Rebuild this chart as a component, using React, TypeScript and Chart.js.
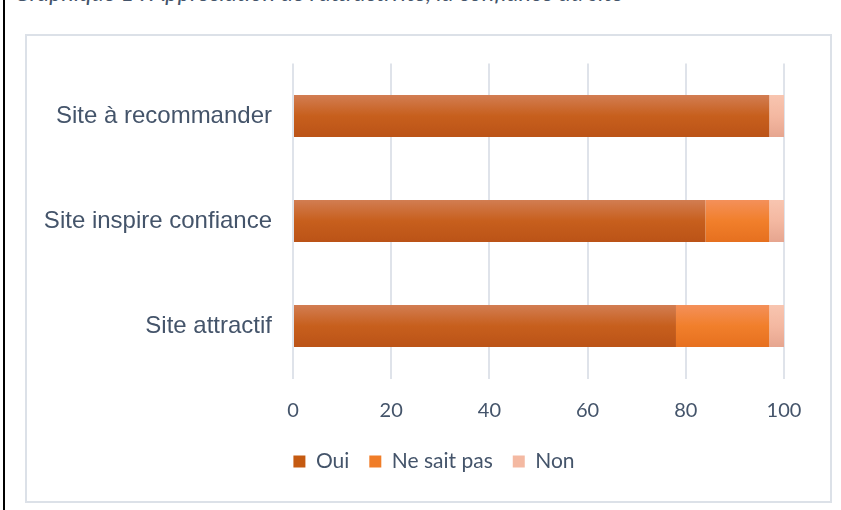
import React, { useEffect, useRef } from 'react';
import { Chart, registerables } from 'chart.js';
Chart.register(...registerables);

const categories = ['Site à recommander', 'Site inspire confiance', 'Site attractif'];
const seriesNames = ['Oui', 'Ne sait pas', 'Non'];
const oui = [97, 84, 78];
const neSaitPas = [0, 13, 19];
const non = [3, 3, 3];
const xTicks = [0, 20, 40, 60, 80, 100];
const titleText = "Graphique 1 : Appréciation de l'attractivité, la confiance du site";

const palettes = [
  { top: '#d27d52', mid: '#c75f1d', bottom: '#bb5317', solid: '#c55a11' },
  { top: '#f4905a', mid: '#f17f2b', bottom: '#e6701f', solid: '#f07d28' },
  { top: '#f8c5b0', mid: '#f4b8a1', bottom: '#e6a58f', solid: '#f4b9a2' },
];

const TEXT = '#44546A';

function gradientFor(ctx: any, p: any) {
  const chart = ctx.chart;
  const y = chart.scales && chart.scales.y;
  if (ctx.type !== 'data' || !y || !chart.chartArea) return p.solid;
  const c = y.getPixelForValue(ctx.dataIndex);
  const step = Math.abs(y.getPixelForValue(1) - y.getPixelForValue(0));
  const half = (step * 0.4) / 2;
  if (!isFinite(c) || !isFinite(half) || half <= 0) return p.solid;
  const g = chart.ctx.createLinearGradient(0, c - half, 0, c + half);
  g.addColorStop(0, p.top);
  g.addColorStop(0.5, p.mid);
  g.addColorStop(1, p.bottom);
  return g;
}

const legendShift = {
  id: 'legendShift',
  afterLayout(chart: any) {
    const lg = chart.legend;
    if (!lg || !chart.chartArea) return;
    lg.left = chart.chartArea.left - 209;
    lg.right = chart.chartArea.right;
    lg.width = lg.right - lg.left;
  },
};

export default function App() {
  const ref = useRef<HTMLCanvasElement | null>(null);
  useEffect(() => {
    if (!ref.current) return;
    const values = [oui, neSaitPas, non];
    const chart = new Chart(ref.current, {
      type: 'bar',
      data: {
        labels: categories,
        datasets: seriesNames.map((name, i) => ({
          label: name,
          data: values[i],
          backgroundColor: (ctx: any) => gradientFor(ctx, palettes[i]),
          borderWidth: 0,
          barPercentage: 0.4,
          categoryPercentage: 1.0,
        })),
      },
      plugins: [legendShift],
      options: {
        indexAxis: 'y',
        animation: false,
        responsive: false,
        maintainAspectRatio: false,
        layout: { padding: { left: 0, right: 46, top: 27.5, bottom: 19 } },
        plugins: {
          tooltip: { enabled: false },
          legend: {
            position: 'bottom',
            labels: {
              boxWidth: 12,
              boxHeight: 12,
              padding: 20,
              color: TEXT,
              font: { family: 'Lato', size: 21 },
              generateLabels: () =>
                seriesNames.map((n, i) => ({
                  text: n,
                  fillStyle: palettes[i].solid,
                  strokeStyle: palettes[i].solid,
                  lineWidth: 0,
                  hidden: false,
                  datasetIndex: i,
                  fontColor: TEXT,
                })),
            },
          },
        },
        scales: {
          x: {
            type: 'linear',
            stacked: true,
            min: 0,
            max: 100,
            afterBuildTicks: (s: any) => {
              s.ticks = xTicks.map((v) => ({ value: v }));
            },
            ticks: { color: TEXT, font: { family: 'Lato', size: 20 }, padding: 20 },
            grid: { color: '#dfe3ea', lineWidth: 2, drawTicks: false },
            border: { display: false },
            afterFit: (s: any) => {
              s.height = 52.5;
            },
          },
          y: {
            type: 'category',
            stacked: true,
            grid: { display: false, drawTicks: false },
            border: { display: false },
            ticks: { color: TEXT, font: { family: 'Liberation Sans', size: 24 }, padding: 21 },
            afterFit: (s: any) => {
              s.width = 266;
              s.paddingTop = 0;
              s.paddingBottom = 0;
            },
          },
        },
      },
    } as any);
    return () => chart.destroy();
  }, []);

  return (
    <div style={{ position: 'absolute', left: 0, top: 0, width: 841, height: 510, background: '#fff', overflow: 'hidden' }}>
      <div style={{ position: 'absolute', left: 3, top: 0, width: 2, height: 510, background: '#000' }} />
      <div
        style={{
          position: 'absolute',
          left: 14,
          top: -19,
          fontFamily: 'Lato',
          fontStyle: 'italic',
          fontSize: 23.5,
          lineHeight: '23.5px',
          color: TEXT,
          whiteSpace: 'nowrap',
        }}
      >
        {titleText}
      </div>
      <div
        style={{
          position: 'absolute',
          left: 25,
          top: 34,
          width: 807,
          height: 469,
          boxSizing: 'border-box',
          border: '2px solid #dce1e8',
        }}
      >
        <canvas ref={ref} width={803} height={465} style={{ display: 'block', width: 803, height: 465 }} />
      </div>
    </div>
  );
}
